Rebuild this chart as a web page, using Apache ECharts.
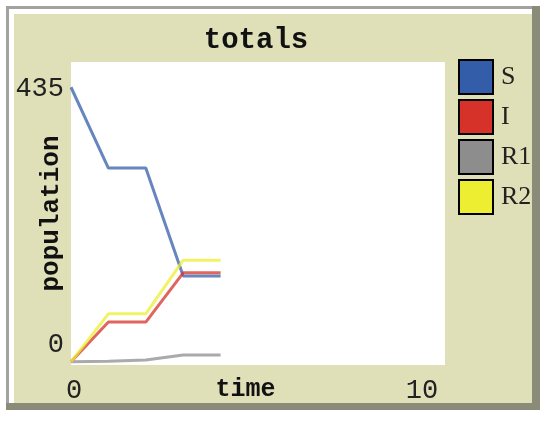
<!DOCTYPE html>
<html>
<head>
<meta charset="utf-8">
<script src="https://cdn.jsdelivr.net/npm/echarts@6/dist/echarts.min.js"></script>
<style>
html,body{margin:0;padding:0;background:#ffffff;}
#chart{width:550px;height:425px;}
</style>
</head>
<body>
<div id="chart"></div>
<script>
// Data
const times = [0, 1, 2, 3, 4];
const S  = [435, 307, 307, 136, 136];
const I  = [0, 63, 63, 141, 141];
const R1 = [0, 1, 3, 11, 11];
const R2 = [0, 76, 76, 161, 161];
const seriesNames = ['S', 'I', 'R1', 'R2'];
const seriesColors = ['#345da9', '#d73229', '#8d8d8d', '#eded31'];
const yTickValues = [0, 435];
const xTickValues = [0, 10];

const allData = [S, I, R1, R2];
const beige = '#e0e0b8';

const chart = echarts.init(document.getElementById('chart'), null, {renderer: 'canvas'});

const option = {
  animation: false,
  backgroundColor: '#ffffff',
  graphic: [
    {type: 'rect', z: -10, shape: {x: 6, y: 6, width: 534, height: 404}, style: {fill: '#8b8b7a'}},
    {type: 'rect', z: -9, shape: {x: 6, y: 6, width: 526, height: 397}, style: {fill: '#a2a2a2'}},
    {type: 'rect', z: -8, shape: {x: 9, y: 9, width: 523, height: 394}, style: {fill: '#ffffff'}},
    {type: 'rect', z: -7, shape: {x: 14, y: 14, width: 518, height: 389}, style: {fill: beige}}
  ],
  title: {
    text: 'totals',
    left: 256,
    top: 26,
    padding: 0,
    textAlign: 'center',
    textStyle: {fontFamily: 'Liberation Mono', fontWeight: 'bold', fontSize: 29, color: '#111'}
  },
  legend: {
    orient: 'vertical',
    left: 458,
    top: 59,
    padding: 0,
    itemWidth: 34,
    itemHeight: 34,
    itemGap: 4,
    icon: 'rect',
    itemStyle: {borderColor: '#000', borderWidth: 2},
    textStyle: {fontFamily: 'Liberation Serif', fontSize: 26, color: '#222', padding: [0, 0, 0, 3]},
    data: seriesNames
  },
  grid: {
    left: 71, right: 105, top: 62, bottom: 60,
    outerBoundsMode: 'none',
    containLabel: false,
    show: true, backgroundColor: '#ffffff', borderWidth: 0
  },
  xAxis: {
    type: 'value',
    min: 0, max: 10,
    name: 'time',
    nameLocation: 'middle',
    nameGap: 12,
    nameMoveOverlap: false,
    nameTextStyle: {fontFamily: 'Liberation Mono', fontWeight: 'bold', fontSize: 25, color: '#111', padding: [0, 25, 0, 0]},
    axisLine: {show: false},
    axisTick: {show: false},
    splitLine: {show: false},
    axisLabel: {
      customValues: xTickValues,
      margin: 12,
      fontFamily: 'Liberation Mono', fontSize: 27, color: '#222',
      formatter: function (v) { return v === xTickValues[xTickValues.length - 1] ? '{r|' + v + '}' : '{c|' + v + '}'; },
      rich: {
        c: {fontFamily: 'Liberation Mono', fontSize: 27, color: '#222', padding: [0, 0, 0, 6]},
        r: {fontFamily: 'Liberation Mono', fontSize: 27, color: '#222', padding: [0, 46, 0, 0]}
      }
    }
  },
  yAxis: {
    type: 'value',
    min: -5, max: 475,
    name: 'population',
    nameLocation: 'middle',
    nameGap: 7,
    nameMoveOverlap: false,
    nameTextStyle: {fontFamily: 'Liberation Mono', fontWeight: 'bold', fontSize: 26, color: '#111'},
    axisLine: {show: false},
    axisTick: {show: false},
    splitLine: {show: false},
    axisLabel: {
      customValues: yTickValues,
      margin: 7,
      formatter: function (v) { return v === 0 ? '{lo|' + v + '}' : '{n|' + v + '}'; },
      rich: {
        lo: {fontFamily: 'Liberation Mono', fontSize: 27, color: '#222', padding: [0, 0, 34, 0]},
        n: {fontFamily: 'Liberation Mono', fontSize: 27, color: '#222', padding: [4, 0, 0, 0]}
      }
    }
  },
  series: seriesNames.map(function (name, k) {
    return {
      name: name,
      type: 'line',
      color: seriesColors[k],
      showSymbol: false,
      symbol: 'none',
      lineStyle: {width: 3, color: seriesColors[k], opacity: 0.75},
      z: 2 + k,
      data: times.map(function (t, i) { return [t, allData[k][i]]; })
    };
  })
};

chart.setOption(option);
</script>
</body>
</html>
